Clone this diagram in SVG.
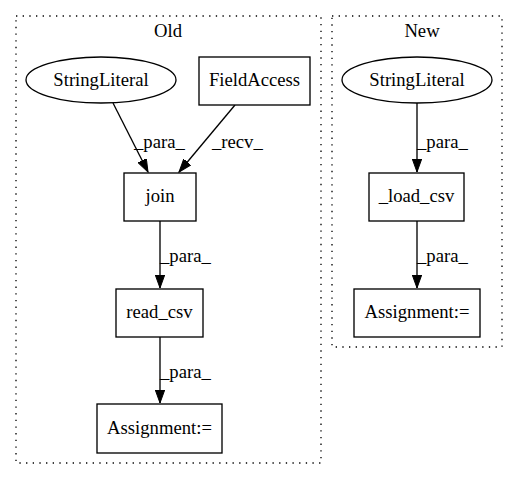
<svg xmlns="http://www.w3.org/2000/svg" width="519" height="480" viewBox="0 0 519 480">
<style>
text{font-family:"Liberation Serif","Times New Roman",serif;font-size:18.67px;fill:#000}
.c{text-anchor:middle}
.n{fill:#fff;stroke:#000;stroke-width:1.33}
.cl{fill:none;stroke:#000;stroke-width:1.33;stroke-dasharray:1.33,5.33}
.e{fill:none;stroke:#000;stroke-width:1.33}
</style>
<defs>
<marker id="ah" markerWidth="14" markerHeight="10" refX="13" refY="4.7" orient="auto" markerUnits="userSpaceOnUse">
<polygon points="0,0 13,4.7 0,9.4" fill="#000" stroke="#000" stroke-width="1"/>
</marker>
</defs>
<rect width="519" height="480" fill="#fff"/>
<g id="cluster_old">
<rect class="cl" x="16" y="16" width="305" height="447"/>
<text class="c" x="168" y="37">Old</text>
</g>
<g id="cluster_new">
<rect class="cl" x="332" y="16" width="170" height="331"/>
<text class="c" x="422" y="37">New</text>
</g>
<g id="connectors">
<path class="e" d="M113,103 L148,172" marker-end="url(#ah)"/>
<text x="134" y="148">_para_</text>
<path class="e" d="M235,105 L179,172" marker-end="url(#ah)"/>
<text x="212" y="148">_recv_</text>
<path class="e" d="M160,221 L160,288" marker-end="url(#ah)"/>
<text x="160" y="262">_para_</text>
<path class="e" d="M160,337 L160,403" marker-end="url(#ah)"/>
<text x="160" y="378">_para_</text>
<path class="e" d="M417,103 L417,172" marker-end="url(#ah)"/>
<text x="417" y="148">_para_</text>
<path class="e" d="M417,221 L417,288" marker-end="url(#ah)"/>
<text x="417" y="262">_para_</text>
</g>
<g id="old_stringliteral">
<ellipse class="n" cx="101" cy="80" rx="75" ry="23"/>
<text class="c" x="101" y="86">StringLiteral</text>
</g>
<g id="old_fieldaccess">
<rect class="n" x="199" y="57" width="111" height="48"/>
<text class="c" x="254.5" y="86">FieldAccess</text>
</g>
<g id="old_join">
<rect class="n" x="124" y="173" width="72" height="48"/>
<text class="c" x="160" y="202">join</text>
</g>
<g id="old_read_csv">
<rect class="n" x="116" y="289" width="87" height="48"/>
<text class="c" x="159.5" y="318">read_csv</text>
</g>
<g id="old_assignment">
<rect class="n" x="97" y="404" width="125" height="49"/>
<text class="c" x="159.5" y="434">Assignment:=</text>
</g>
<g id="new_stringliteral">
<ellipse class="n" cx="417" cy="80" rx="75" ry="23"/>
<text class="c" x="417" y="86">StringLiteral</text>
</g>
<g id="new_load_csv">
<rect class="n" x="369" y="173" width="95" height="48"/>
<text class="c" x="416.5" y="202">_load_csv</text>
</g>
<g id="new_assignment">
<rect class="n" x="354" y="289" width="126" height="48"/>
<text class="c" x="417" y="318">Assignment:=</text>
</g>
</svg>
